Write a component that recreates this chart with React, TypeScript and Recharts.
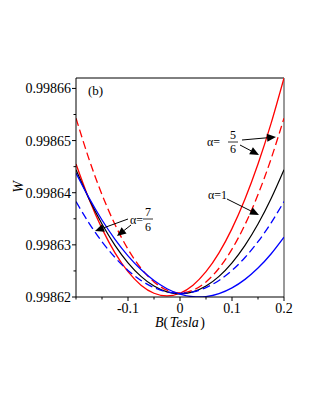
import { LineChart, Line, XAxis, YAxis, ReferenceLine } from "recharts";

// magnetic field B (Tesla)
const fieldB = [-0.2, -0.175, -0.15, -0.125, -0.1, -0.075, -0.05, -0.025, 0, 0.025, 0.05, 0.075, 0.1, 0.125, 0.15, 0.175, 0.2];

// W values
const redSolid = [0.9986455, 0.99863879, 0.99863311, 0.99862846, 0.99862485, 0.99862227, 0.99862072, 0.9986202, 0.99862072, 0.99862227, 0.99862485, 0.99862846, 0.99863311, 0.99863879, 0.9986455, 0.99865324, 0.998662];
const redDashed = [0.9986543, 0.99864645, 0.99863964, 0.99863389, 0.99862918, 0.99862551, 0.99862289, 0.99862132, 0.9986208, 0.99862132, 0.99862289, 0.99862551, 0.99862918, 0.99863389, 0.99863964, 0.99864645, 0.9986543];
const blackSolid = [0.9986444, 0.99863882, 0.99863399, 0.9986299, 0.99862655, 0.99862395, 0.99862209, 0.99862097, 0.9986206, 0.99862097, 0.99862209, 0.99862395, 0.99862655, 0.9986299, 0.99863399, 0.99863882, 0.9986444];
const blueSolid = [0.99864378, 0.99863901, 0.99863477, 0.99863107, 0.9986279, 0.99862526, 0.99862316, 0.99862159, 0.99862055, 0.99862005, 0.99862008, 0.99862065, 0.99862175, 0.99862338, 0.99862555, 0.99862825, 0.99863148];
const blueDashed = [0.9986383, 0.99863418, 0.9986306, 0.99862758, 0.9986251, 0.99862318, 0.9986218, 0.99862098, 0.9986207, 0.99862098, 0.9986218, 0.99862318, 0.9986251, 0.99862758, 0.9986306, 0.99863418, 0.9986383];

const xTicks = [-0.2, -0.15, -0.1, -0.05, 0, 0.05, 0.1, 0.15, 0.2];
const xLabels = ["", "", "-0.1", "", "0", "", "0.1", "", "0.2"];
const yTicks = [0.99862, 0.998625, 0.99863, 0.998635, 0.99864, 0.998645, 0.99865, 0.998655, 0.99866];
const yLabels = ["0.99862", "", "0.99863", "", "0.99864", "", "0.99865", "", "0.99866"];

const data = fieldB.map((b, i) => ({
  b,
  r1: redSolid[i],
  r2: redDashed[i],
  k1: blackSolid[i],
  u1: blueSolid[i],
  u2: blueDashed[i],
}));

const FONT = "'Liberation Serif', 'Times New Roman', serif";

function YTick(props: any) {
  const { x, y, index } = props;
  const label = yLabels[index];
  const len = label ? 4 : 2.5;
  return (
    <g>
      <line x1={x} x2={x - len} y1={y} y2={y} stroke="#000" strokeWidth={1} />
      {label && (
        <text x={x - 5} y={y + 5} textAnchor="end" fontSize={14} fontFamily={FONT} fill="#000">
          {label}
        </text>
      )}
    </g>
  );
}

function XTick(props: any) {
  const { x, y, index } = props;
  const label = xLabels[index];
  const len = label ? 4 : 2.5;
  return (
    <g>
      <line x1={x} x2={x} y1={y} y2={y + len} stroke="#000" strokeWidth={1} />
      {label && (
        <text x={x} y={y + 16} textAnchor="middle" fontSize={14} fontFamily={FONT} fill="#000">
          {label}
        </text>
      )}
    </g>
  );
}

function Arrow({ x1, y1, x2, y2 }: { x1: number; y1: number; x2: number; y2: number }) {
  const ang = Math.atan2(y2 - y1, x2 - x1);
  const L = 9, W = 4;
  const bx = x2 - L * Math.cos(ang), by = y2 - L * Math.sin(ang);
  const px = -Math.sin(ang) * W, py = Math.cos(ang) * W;
  return (
    <g>
      <line x1={x1} y1={y1} x2={bx} y2={by} stroke="#000" strokeWidth={1} />
      <polygon points={`${x2},${y2} ${bx + px},${by + py} ${bx - px},${by - py}`} fill="#000" />
    </g>
  );
}

function Overlay() {
  return (
    <svg width={315} height={407} style={{ position: "absolute", left: 0, top: 0, pointerEvents: "none" }}>
      <g fontFamily={FONT} fill="#000">
        <text x={88} y={95} fontSize={13}>(b)</text>
        <text x={23} y={187} fontSize={14} fontStyle="italic" textAnchor="middle" transform="rotate(-90 23 187)">W</text>
        <text x={180} y={327} fontSize={14} textAnchor="middle">
          <tspan fontStyle="italic">B</tspan>
          <tspan>(</tspan>
          <tspan fontStyle="italic" dx={1.5}>Tesla</tspan>
          <tspan dx={1.5}>)</tspan>
        </text>

        {/* alpha = 5/6 */}
        <text x={207} y={146} fontSize={12}>α=</text>
        <text x={233} y={139} fontSize={12} textAnchor="middle">5</text>
        <line x1={228} x2={238} y1={142} y2={142} stroke="#000" strokeWidth={0.8} />
        <text x={233} y={153} fontSize={12} textAnchor="middle">6</text>
        <Arrow x1={242} y1={140} x2={276} y2={137} />
        <Arrow x1={240} y1={145} x2={259} y2={155} />

        {/* alpha = 1 */}
        <text x={208} y={199} fontSize={12}>α=1</text>
        <Arrow x1={227} y1={199} x2={259} y2={215} />

        {/* alpha = 7/6 */}
        <text x={130} y={224} fontSize={12}>α=</text>
        <text x={148} y={216} fontSize={12} textAnchor="middle">7</text>
        <line x1={143} x2={153} y1={219} y2={219} stroke="#000" strokeWidth={0.8} />
        <text x={148} y={231} fontSize={12} textAnchor="middle">6</text>
        <Arrow x1={128} y1={219} x2={95} y2={231} />
        <Arrow x1={131} y1={225} x2={117} y2={236} />
      </g>
    </svg>
  );
}

export default function App() {
  return (
    <div style={{ position: "absolute", left: 0, top: 0, width: 315, height: 407, background: "#fff" }}>
      <LineChart width={315} height={407} data={data} margin={{ top: 78, right: 31, left: 0, bottom: 80 }}>
        <XAxis
          dataKey="b"
          type="number"
          domain={[-0.2, 0.2]}
          ticks={xTicks}
          interval={0}
          tickSize={0}
          tickMargin={0}
          height={30}
          stroke="#000"
          tick={<XTick />}
          allowDataOverflow
        />
        <YAxis
          type="number"
          domain={[0.99862, 0.998662]}
          ticks={yTicks}
          interval={0}
          tickSize={0}
          tickMargin={0}
          width={76}
          stroke="#000"
          tick={<YTick />}
          allowDataOverflow
        />
        <ReferenceLine y={0.998662} stroke="#000" strokeWidth={1} />
        <ReferenceLine x={0.2} stroke="#999" strokeWidth={2} />
        <Line dataKey="r1" type="natural" stroke="#ff0000" strokeWidth={1.3} dot={false} isAnimationActive={false} />
        <Line dataKey="r2" type="natural" stroke="#ff0000" strokeWidth={1.3} strokeDasharray="8 4" dot={false} isAnimationActive={false} />
        <Line dataKey="k1" type="natural" stroke="#000000" strokeWidth={1.2} dot={false} isAnimationActive={false} />
        <Line dataKey="u1" type="natural" stroke="#0000ff" strokeWidth={1.3} dot={false} isAnimationActive={false} />
        <Line dataKey="u2" type="natural" stroke="#0000ff" strokeWidth={1.3} strokeDasharray="8 4" dot={false} isAnimationActive={false} />
      </LineChart>
      <Overlay />
    </div>
  );
}
